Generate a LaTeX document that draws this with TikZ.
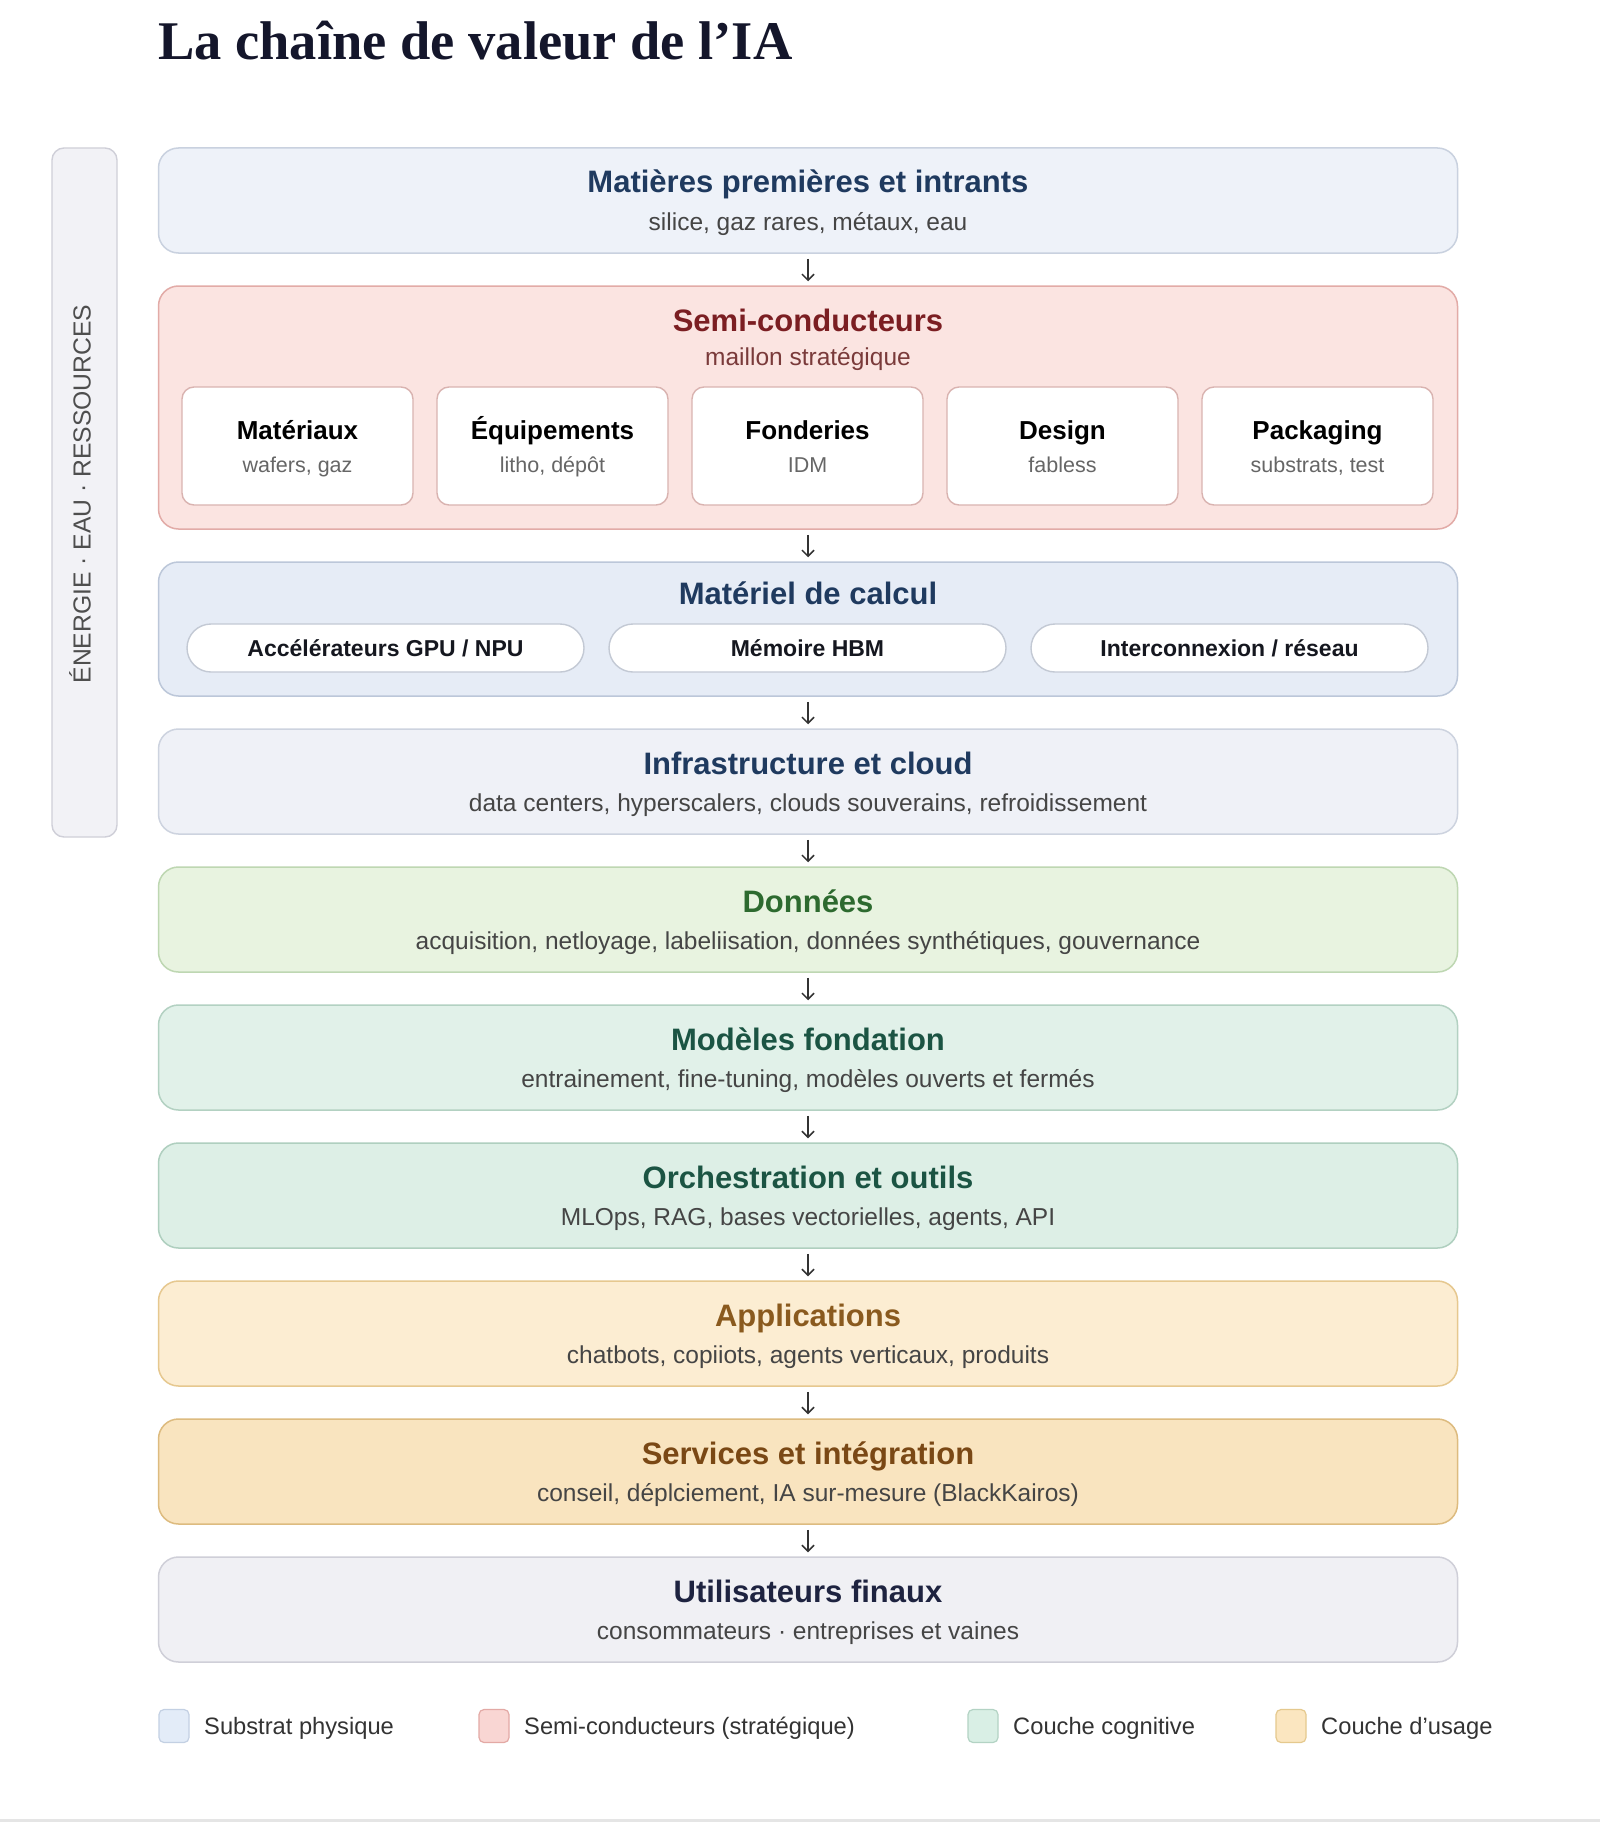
\documentclass[tikz,border=0pt]{standalone}
\usepackage{fontspec}
\setmainfont{Liberation Sans}
\newfontfamily\titleserif{Liberation Serif}
\usetikzlibrary{arrows.meta}
\definecolor{navy}{HTML}{1F3A5F}
\definecolor{subgray}{HTML}{454545}
\definecolor{ttlink}{HTML}{14162B}
\definecolor{sideD}{HTML}{CFCFD8}\definecolor{sideF}{HTML}{F2F2F6}\definecolor{sideT}{HTML}{4E4E4E}
\definecolor{matD}{HTML}{C9D1DF}\definecolor{matF}{HTML}{EEF2F9}
\definecolor{semiD}{HTML}{E2ABA7}\definecolor{semiF}{HTML}{FBE4E1}\definecolor{semiT}{HTML}{7B1E22}\definecolor{semiS}{HTML}{7A3A3A}
\definecolor{chipD}{HTML}{D9B3B0}\definecolor{chipS}{HTML}{666666}
\definecolor{calcD}{HTML}{BCC7D9}\definecolor{calcF}{HTML}{E6ECF6}\definecolor{pillD}{HTML}{C3C9D4}\definecolor{pillT}{HTML}{15171F}
\definecolor{infD}{HTML}{CDD3DF}\definecolor{infF}{HTML}{EFF1F7}
\definecolor{datD}{HTML}{BED7B2}\definecolor{datF}{HTML}{E8F3E0}\definecolor{datT}{HTML}{2D6A2F}
\definecolor{modD}{HTML}{B3D1C2}\definecolor{modF}{HTML}{E1F1E9}\definecolor{modT}{HTML}{1B5443}
\definecolor{orcD}{HTML}{AFCFBF}\definecolor{orcF}{HTML}{DDEFE6}
\definecolor{appD}{HTML}{E6C88F}\definecolor{appF}{HTML}{FCEDD2}\definecolor{appT}{HTML}{8A5A1E}
\definecolor{serD}{HTML}{DDBB7F}\definecolor{serF}{HTML}{F9E4BF}\definecolor{serT}{HTML}{7A4815}
\definecolor{usrD}{HTML}{CFCFD8}\definecolor{usrF}{HTML}{F0F0F4}\definecolor{usrT}{HTML}{1E2340}
\definecolor{sw1D}{HTML}{C3D0E3}\definecolor{sw1F}{HTML}{E3ECF8}
\definecolor{sw2D}{HTML}{E3A9A5}\definecolor{sw2F}{HTML}{F9D6D3}
\definecolor{sw3D}{HTML}{B3D3C4}\definecolor{sw3F}{HTML}{D9EFE5}
\definecolor{sw4D}{HTML}{E5C98E}\definecolor{sw4F}{HTML}{FBE6C0}
\tikzset{
  layer/.style={draw=#1, line width=1.5pt, rounded corners=20pt, minimum width=1299pt, inner sep=0pt},
  ttl/.style={anchor=base, font=\fontsize{31}{36}\selectfont\bfseries, text=#1, inner sep=0pt},
  sub/.style={anchor=base, font=\fontsize{24.5}{29}\selectfont, text=subgray, inner sep=0pt},
  chip/.style={draw=#1, fill=white, line width=1.4pt, rounded corners=12pt, minimum width=231pt, minimum height=118pt, inner sep=0pt},
  pill/.style={draw=#1, fill=white, line width=1.4pt, rounded corners=24pt, minimum width=397pt, minimum height=48pt, inner sep=0pt},
  arr/.style={draw=black!80, line width=1.5pt, -{Straight Barb[length=6pt,width=12pt,line width=1.5pt]}, shorten <=5pt, shorten >=4pt},
  swatch/.style={draw=#1, line width=1.2pt, rounded corners=5pt, minimum width=30pt, minimum height=33pt, inner sep=0pt},
  legtxt/.style={anchor=base west, font=\fontsize{23.7}{28}\selectfont, text=black!80, inner sep=0pt}
}
\begin{document}
\begin{tikzpicture}[x=1pt,y=-1pt]
\useasboundingbox (0,0) rectangle (1600,1822);
\fill[white] (0,0) rectangle (1600,1822);
\fill[black!10] (0,1819) rectangle (1600,1822);

% title
\node[anchor=base west, inner sep=0pt, font=\titleserif\fontsize{54.5}{60}\selectfont\bfseries, text=ttlink] (title) at (158,60) {La chaîne de valeur de l’IA};

% side bar
\node[draw=sideD, fill=sideF, line width=1.4pt, rounded corners=12pt, minimum width=65pt, minimum height=689pt, inner sep=0pt] (side) at (84.5,492.5) {};
\node[rotate=90, font=\fontsize{24.7}{29}\selectfont, text=sideT, inner sep=0pt] (sidetxt) at (80,494) {ÉNERGIE · EAU · RESSOURCES};

% layer 1
\node[layer=matD, fill=matF, minimum height=105pt] (mat) at (808,200.5) {};
\node[ttl=navy] (matT) at (808,193) {Matières premières et intrants};
\node[sub] (matS) at (808,230) {silice, gaz rares, métaux, eau};

% layer 2 semi
\node[layer=semiD, fill=semiF, minimum height=243pt] (semi) at (808,407.5) {};
\node[ttl=semiT] (semiTt) at (808,331) {Semi-conducteurs};
\node[sub, text=semiS] (semiSs) at (808,365) {maillon stratégique};
\foreach \n/\x/\t/\s in {c1/297.5/Matériaux/{wafers, gaz}, c2/552.5/Équipements/{litho, dépôt}, c3/807.5/Fonderies/IDM, c4/1062.5/Design/fabless, c5/1317.5/Packaging/{substrats, test}}{
  \node[chip=chipD] (\n) at (\x,446) {};
  \node[anchor=base, inner sep=0pt, font=\fontsize{26}{30}\selectfont\bfseries] (\n T) at (\x,439.5) {\t};
  \node[anchor=base, inner sep=0pt, font=\fontsize{21.5}{25}\selectfont, text=chipS] (\n S) at (\x,472) {\s};
}

% layer 3 calc
\node[layer=calcD, fill=calcF, minimum height=134pt] (calc) at (808,629) {};
\node[ttl=navy] (calcT) at (808,604) {Matériel de calcul};
\foreach \n/\x/\t in {p1/385.5/{Accélérateurs GPU / NPU}, p2/807.5/{Mémoire HBM}, p3/1229.5/{Interconnexion / réseau}}{
  \node[pill=pillD] (\n) at (\x,648) {};
  \node[anchor=base, inner sep=0pt, font=\fontsize{23}{27}\selectfont\bfseries, text=pillT] (\n T) at (\x,656) {\t};
}

% layer 4 infra
\node[layer=infD, fill=infF, minimum height=105pt] (infra) at (808,781.5) {};
\node[ttl=navy] (infraT) at (808,774) {Infrastructure et cloud};
\node[sub] (infraS) at (808,811) {data centers, hyperscalers, clouds souverains, refroidissement};

% layer 5 données
\node[layer=datD, fill=datF, minimum height=105pt] (data) at (808,919.5) {};
\node[ttl=datT] (dataT) at (808,912) {Données};
\node[sub] (dataS) at (808,949) {acquisition, netloyage, labeliisation, données synthétiques, gouvernance};

% layer 6 modèles
\node[layer=modD, fill=modF, minimum height=105pt] (model) at (808,1057.5) {};
\node[ttl=modT] (modelT) at (808,1050) {Modèles fondation};
\node[sub] (modelS) at (808,1087) {entrainement, fine-tuning, modèles ouverts et fermés};

% layer 7 orchestration
\node[layer=orcD, fill=orcF, minimum height=105pt] (orch) at (808,1195.5) {};
\node[ttl=modT] (orchT) at (808,1188) {Orchestration et outils};
\node[sub] (orchS) at (808,1225) {MLOps, RAG, bases vectorielles, agents, API};

% layer 8 applications
\node[layer=appD, fill=appF, minimum height=105pt] (apps) at (808,1333.5) {};
\node[ttl=appT] (appsT) at (808,1326) {Applications};
\node[sub] (appsS) at (808,1363) {chatbots, copiiots, agents verticaux, produits};

% layer 9 services
\node[layer=serD, fill=serF, minimum height=105pt] (serv) at (808,1471.5) {};
\node[ttl=serT] (servT) at (808,1464) {Services et intégration};
\node[sub] (servS) at (808,1501) {conseil, déplciement, IA sur-mesure (BlackKairos)};

% layer 10 users
\node[layer=usrD, fill=usrF, minimum height=105pt] (users) at (808,1609.5) {};
\node[ttl=usrT] (usersT) at (808,1602) {Utilisateurs finaux};
\node[sub] (usersS) at (808,1639) {consommateurs · entreprises et vaines};

% arrows
\draw[arr] (mat) -- (semi);
\draw[arr] (semi) -- (calc);
\draw[arr] (calc) -- (infra);
\draw[arr] (infra) -- (data);
\draw[arr] (data) -- (model);
\draw[arr] (model) -- (orch);
\draw[arr] (orch) -- (apps);
\draw[arr] (apps) -- (serv);
\draw[arr] (serv) -- (users);

% legend
\node[swatch=sw1D, fill=sw1F] (l1) at (174,1726) {};
\node[legtxt] (l1T) at (204,1734.5) {Substrat physique};
\node[swatch=sw2D, fill=sw2F] (l2) at (494,1726) {};
\node[legtxt] (l2T) at (524,1734.5) {Semi-conducteurs (stratégique)};
\node[swatch=sw3D, fill=sw3F] (l3) at (983,1726) {};
\node[legtxt] (l3T) at (1013,1734.5) {Couche cognitive};
\node[swatch=sw4D, fill=sw4F] (l4) at (1291,1726) {};
\node[legtxt] (l4T) at (1321,1734.5) {Couche d’usage};
\end{tikzpicture}
\end{document}
